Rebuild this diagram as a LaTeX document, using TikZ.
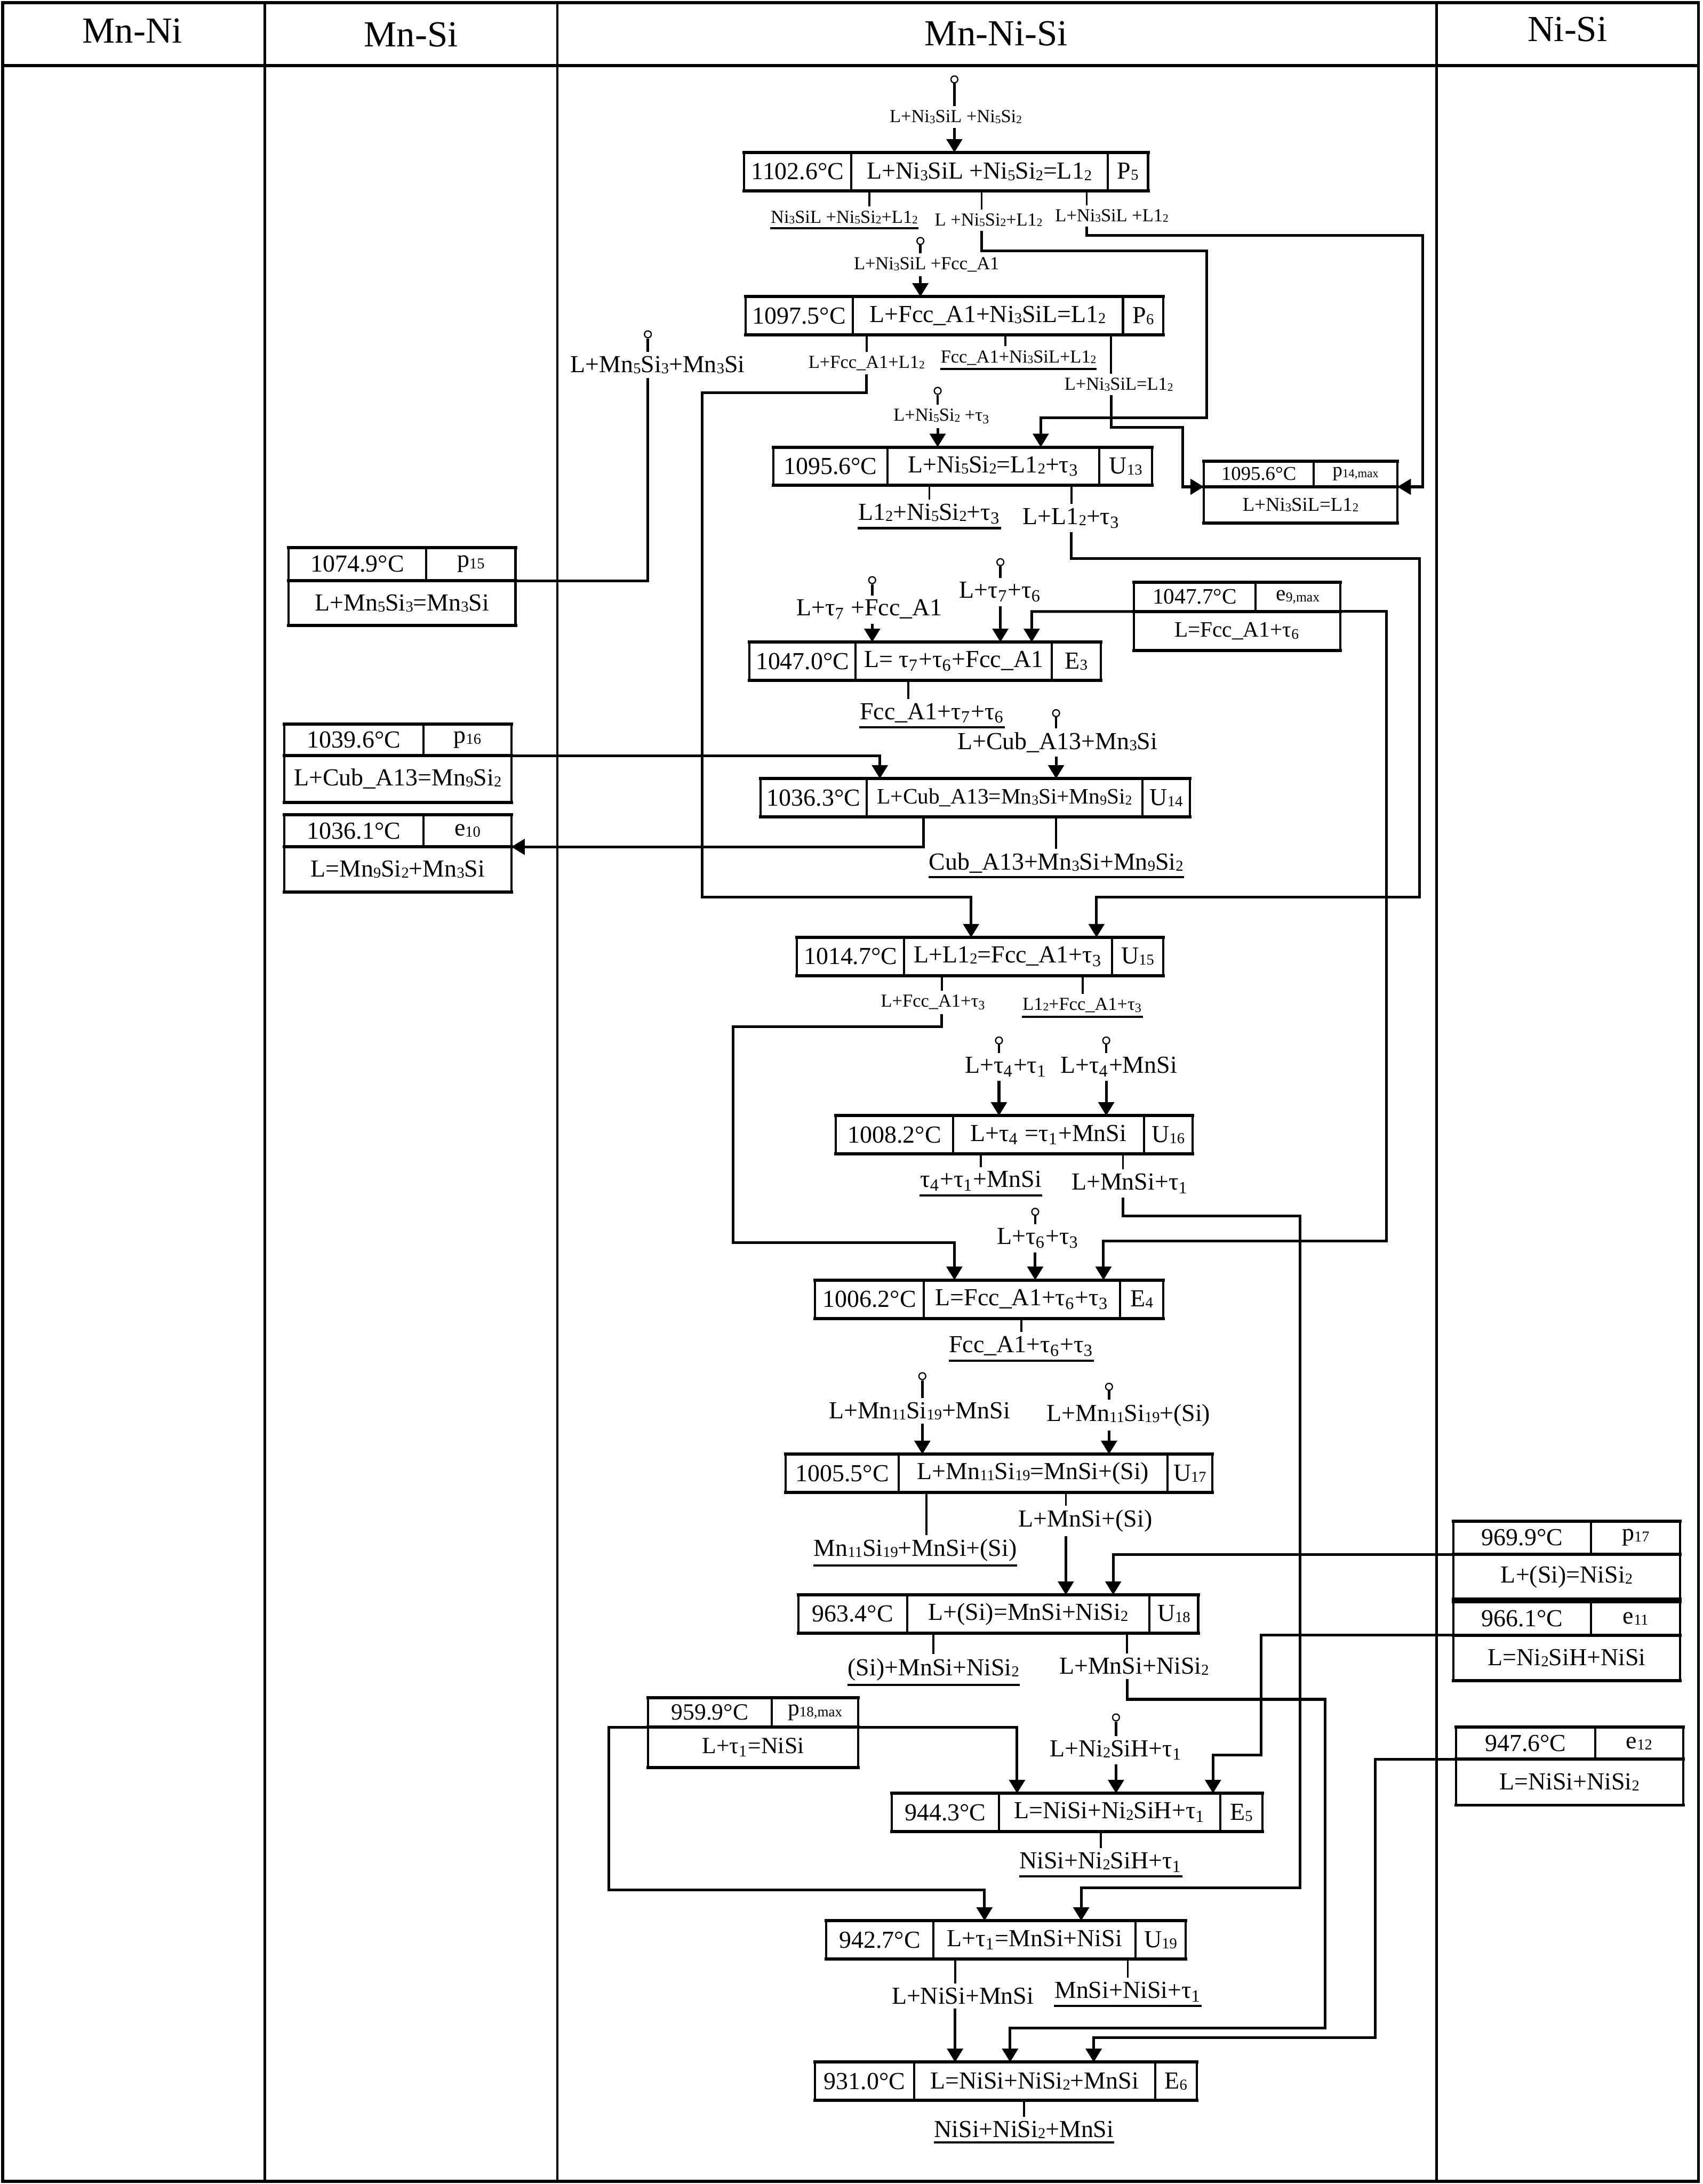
\documentclass[tikz,border=0pt]{standalone}
\usepackage{fontspec}
\setmainfont{Liberation Serif}
\usepackage{graphicx}
\usepackage{tikz}
\usetikzlibrary{arrows.meta}
\newdimen\pxu \pxu=0.2mm
\newcommand{\nsub}[1]{\raisebox{-0.1ex}{\scalebox{0.62}{#1}}}
\newcommand{\tsub}[1]{τ\textsubscript{#1}}
\newcommand{\cellsize}{\fontsize{10}{12}\selectfont}
% three-cell reaction box: name, top-left corner, cell widths, texts
\newcommand{\rxnbox}[8]{%
  \node[cell,minimum width=#3\pxu,anchor=north west] (#1t) at #2 {#6};
  \node[cell,minimum width=#4\pxu,anchor=north west] (#1r) at (#1t.north east) {#7};
  \node[cell,minimum width=#5\pxu,anchor=north west] (#1c) at (#1r.north east) {#8};
  \draw[rim] (#1t.north west) -- (#1c.north east) (#1t.south west) -- (#1c.south east);}
% binary invariant box: two cells over one
\newcommand{\binbox}[9]{%
  \node[cell,minimum width=#3\pxu,minimum height=#5\pxu,anchor=north west] (#1t) at #2 {#7};
  \node[cell,minimum width=#4\pxu,minimum height=#5\pxu,anchor=north west] (#1c) at (#1t.north east) {#8};
  \node[cell,minimum width=#3\pxu+#4\pxu,minimum height=#6\pxu,anchor=north west] (#1r) at (#1t.south west) {#9};
  \draw[rim] (#1t.north west) -- (#1c.north east) (#1t.south west) -- (#1c.south east)
             (#1r.south west) -- (#1r.south east);}

\begin{document}
\begin{tikzpicture}[x=0.2mm,y=-0.2mm,
  cell/.style={draw,line width=0.9pt,inner sep=0pt,outer sep=0pt,
               minimum height=27.5\pxu,font=\cellsize},
  rim/.style={line width=1.3pt,line cap=rect},
  lab/.style={inner xsep=0pt,inner ysep=1.5pt,font=\fontsize{10}{12}\selectfont},
  sml/.style={lab,font=\fontsize{7.5}{9}\selectfont},
  ul/.style={append after command={\pgfextra{\let\ulnode\tikzlastnode}
             (\ulnode.south west) edge[line width=0.9pt] (\ulnode.south east)}},
  dot/.style={circle,draw,line width=0.5pt,fill=white,inner sep=0pt,minimum size=2.8pt},
  stem/.style={line width=1pt},
  stub/.style={line width=0.8pt},
  conn/.style={line width=1.1pt},
  arr/.style={conn,-{Triangle[length=5.5pt,width=6.4pt]}},
  hdr/.style={font=\fontsize{15}{18}\selectfont},
  frame/.style={line width=1.2pt},
  col/.style={line width=1pt}]
\useasboundingbox (0,0) rectangle (1222,1568);

% ------------------------------- table ------------------------------------
\draw[frame] (2,2) rectangle (1219,1566);
\draw[frame] (2,47) -- (1219,47);
\foreach \cx in {190,400,1031} \draw[col] (\cx,2) -- (\cx,1566);
\node[hdr] (hmn)  at (95,22)   {Mn-Ni};
\node[hdr] (hms)  at (295,25)  {Mn-Si};
\node[hdr] (hmns) at (715,24)  {Mn-Ni-Si};
\node[hdr] (hns)  at (1125,21) {Ni-Si};

% --------------------------- ternary reactions ----------------------------
\rxnbox{p5}{(534,109.5)}{77}{184}{29}{1102.6°C}{L+Ni\nsub{3}SiL +Ni\nsub{5}Si\nsub{2}=L1\nsub{2}}{P\nsub{5}}
\rxnbox{p6}{(535,213)}{77}{194}{29}{1097.5°C}{L+Fcc\_A1+Ni\nsub{3}SiL=L1\nsub{2}}{P\nsub{6}}
\rxnbox{u13}{(555,321)}{82}{152}{38}{1095.6°C}{L+Ni\nsub{5}Si\nsub{2}=L1\nsub{2}+\tsub{3}}{U\nsub{13}}
\rxnbox{e3}{(538,461)}{76}{141}{35}{1047.0°C}{L= \tsub{7}+\tsub{6}+Fcc\_A1}{E\nsub{3}}
\rxnbox{u14}{(546,559)}{76}{198}{34}{1036.3°C}{\fontsize{9}{11}\selectfont L+Cub\_A13=Mn\nsub{3}Si+Mn\nsub{9}Si\nsub{2}}{U\nsub{14}}
\rxnbox{u15}{(572,673)}{77}{149}{37}{1014.7°C}{L+L1\nsub{2}=Fcc\_A1+\tsub{3}}{U\nsub{15}}
\rxnbox{u16}{(600,801)}{84}{137}{35}{1008.2°C}{L+\tsub{4} =\tsub{1}+MnSi}{U\nsub{16}}
\rxnbox{e4}{(585,919)}{78}{141}{31}{1006.2°C}{L=Fcc\_A1+\tsub{6}+\tsub{3}}{E\nsub{4}}
\rxnbox{u17}{(564,1044)}{81}{193}{32}{1005.5°C}{L+Mn\nsub{11}Si\nsub{19}=MnSi+(Si)}{U\nsub{17}}
\rxnbox{u18}{(573,1145)}{78}{174}{35}{963.4°C}{L+(Si)=MnSi+NiSi\nsub{2}}{U\nsub{18}}
\rxnbox{e5}{(640,1287.5)}{77}{159}{30}{944.3°C}{L=NiSi+Ni\nsub{2}SiH+\tsub{1}}{E\nsub{5}}
\rxnbox{u19}{(593,1379)}{77}{145}{36}{942.7°C}{L+\tsub{1}=MnSi+NiSi}{U\nsub{19}}
\rxnbox{e6}{(585,1480.5)}{71}{173}{30}{931.0°C}{L=NiSi+NiSi\nsub{2}+MnSi}{E\nsub{6}}

% ---------------------------- binary reactions ----------------------------
\begin{scope}\renewcommand{\cellsize}{\fontsize{8}{9.6}\selectfont}
\binbox{p14}{(864,331)}{79}{60}{18.5}{26}{1095.6°C}{p\nsub{14,max}}{L+Ni\nsub{3}SiL=L1\nsub{2}}
\end{scope}
\begin{scope}\renewcommand{\cellsize}{\fontsize{9}{11}\selectfont}
\binbox{e9}{(814,418)}{87}{61}{21}{28}{1047.7°C}{e\nsub{9,max}}{L=Fcc\_A1+\tsub{6}}
\end{scope}
\begin{scope}\renewcommand{\cellsize}{\fontsize{9.5}{11}\selectfont}
\binbox{p18}{(465,1219)}{89}{62}{21}{29}{959.9°C}{p\nsub{18,max}}{L+\tsub{1}=NiSi}
\end{scope}
\binbox{p15}{(207,393)}{99}{64}{24}{32}{1074.9°C}{p\nsub{15}}{L+Mn\nsub{5}Si\nsub{3}=Mn\nsub{3}Si}
\binbox{p16}{(204,520)}{100}{63}{22.5}{33.5}{1039.6°C}{p\nsub{16}}{L+Cub\_A13=Mn\nsub{9}Si\nsub{2}}
\binbox{e10}{(204,585)}{100}{63}{23}{32.5}{1036.1°C}{e\nsub{10}}{L=Mn\nsub{9}Si\nsub{2}+Mn\nsub{3}Si}
\binbox{p17}{(1043,1092)}{99}{64}{24}{32}{969.9°C}{p\nsub{17}}{L+(Si)=NiSi\nsub{2}}
\binbox{e11}{(1043,1150)}{99}{64}{24}{32.5}{966.1°C}{e\nsub{11}}{L=Ni\nsub{2}SiH+NiSi}
\binbox{e12}{(1045,1240)}{100}{63}{23}{33}{947.6°C}{e\nsub{12}}{L=NiSi+NiSi\nsub{2}}

% ------------------------------ start points ------------------------------
\node[dot] (c1)  at (685,57)     {};
\node[dot] (c2)  at (660.6,173)  {};
\node[dot] (c3)  at (673,280.6)  {};
\node[dot] (c4)  at (465,240)    {};
\node[dot] (c5)  at (626,416.5)  {};
\node[dot] (c6)  at (718,403.6)  {};
\node[dot] (c7)  at (758,512)    {};
\node[dot] (c8)  at (717,747)    {};
\node[dot] (c9)  at (794,747)    {};
\node[dot] (c10) at (743,870)    {};
\node[dot] (c11) at (662,988)    {};
\node[dot] (c12) at (796,995.6)  {};
\node[dot] (c13) at (801,1233)   {};
\node[sml] (l1)  at (686,84)     {L+Ni\nsub{3}SiL +Ni\nsub{5}Si\nsub{2}};
\node[sml] (l2)  at (665,190)    {L+Ni\nsub{3}SiL +Fcc\_A1};
\node[sml] (l3)  at (676,299)    {L+Ni\nsub{5}Si\nsub{2} +\tsub{3}};
\node[lab] (l4)  at (472,262)    {L+Mn\nsub{5}Si\nsub{3}+Mn\nsub{3}Si};
\node[lab] (l5)  at (624,437.6)  {L+\tsub{7} +Fcc\_A1};
\node[lab] (l6)  at (718,425)    {L+\tsub{7}+\tsub{6}};
\node[lab] (l7)  at (759,533)    {L+Cub\_A13+Mn\nsub{3}Si};
\node[lab] (l8)  at (722,766)    {L+\tsub{4}+\tsub{1}};
\node[lab] (l9)  at (803,766)    {L+\tsub{4}+MnSi};
\node[lab] (l10) at (745,889)    {L+\tsub{6}+\tsub{3}};
\node[lab] (l11) at (660,1013)   {L+Mn\nsub{11}Si\nsub{19}+MnSi};
\node[lab] (l12) at (810,1016)   {L+Mn\nsub{11}Si\nsub{19}+(Si)};
\node[lab] (l13) at (801,1256.5) {L+Ni\nsub{2}SiH+\tsub{1}};
\foreach \s in {1,...,13} \draw[stem] (c\s.south) -- (c\s |- l\s.north);
\draw[arr] (c1 |- l1.south) -- (c1 |- p5r.north);
\draw[arr] (c2 |- l2.south) -- (c2 |- p6r.north);
\draw[arr] (c3 |- l3.south) -- (c3 |- u13r.north);
\draw[conn] (c4 |- l4.south) |- (p15c.south east);
\draw[arr] (c5 |- l5.south) -- (c5 |- e3r.north);
\draw[arr] (c6 |- l6.south) -- (c6 |- e3r.north);
\draw[arr] (c7 |- l7.south) -- (c7 |- u14r.north);
\draw[arr] (c8 |- l8.south) -- (c8 |- u16r.north);
\draw[arr] (c9 |- l9.south) -- (c9 |- u16r.north);
\draw[arr] (c10 |- l10.south) -- (c10 |- e4r.north);
\draw[arr] (c11 |- l11.south) -- (c11 |- u17r.north);
\draw[arr] (c12 |- l12.south) -- (c12 |- u17r.north);
\draw[arr] (c13 |- l13.south) -- (c13 |- e5r.north);

% ------------------------------- products ---------------------------------
\node[sml,ul] (o1)  at (606,156)    {Ni\nsub{3}SiL +Ni\nsub{5}Si\nsub{2}+L1\nsub{2}};
\node[sml]    (o2)  at (709.6,158)  {L +Ni\nsub{5}Si\nsub{2}+L1\nsub{2}};
\node[sml]    (o3)  at (798,155)    {L+Ni\nsub{3}SiL +L1\nsub{2}};
\node[sml]    (o4)  at (622,260.7)  {L+Fcc\_A1+L1\nsub{2}};
\node[sml,ul] (o5)  at (731,256.8)  {Fcc\_A1+Ni\nsub{3}SiL+L1\nsub{2}};
\node[sml]    (o6)  at (803,276)    {L+Ni\nsub{3}SiL=L1\nsub{2}};
\node[lab,ul] (o7)  at (667,369)    {L1\nsub{2}+Ni\nsub{5}Si\nsub{2}+\tsub{3}};
\node[lab]    (o8)  at (769,372)    {L+L1\nsub{2}+\tsub{3}};
\node[lab,ul] (o9)  at (669,512)    {Fcc\_A1+\tsub{7}+\tsub{6}};
\node[lab,ul] (o10) at (758,619.5)  {Cub\_A13+Mn\nsub{3}Si+Mn\nsub{9}Si\nsub{2}};
\node[sml]    (o11) at (670,719.6)  {L+Fcc\_A1+\tsub{3}};
\node[sml,ul] (o12) at (777,721.7)  {L1\nsub{2}+Fcc\_A1+\tsub{3}};
\node[lab,ul] (o13) at (704,848)    {\tsub{4}+\tsub{1}+MnSi};
\node[lab]    (o14) at (811,849.6)  {L+MnSi+\tsub{1}};
\node[lab,ul] (o15) at (733,966.6)  {Fcc\_A1+\tsub{6}+\tsub{3}};
\node[lab,ul] (o16) at (657,1113)   {Mn\nsub{11}Si\nsub{19}+MnSi+(Si)};
\node[lab]    (o17) at (779,1092)   {L+MnSi+(Si)};
\node[lab,ul] (o18) at (670,1198.6) {(Si)+MnSi+NiSi\nsub{2}};
\node[lab]    (o19) at (814,1196.4) {L+MnSi+NiSi\nsub{2}};
\node[lab,ul] (o20) at (790,1337)   {NiSi+Ni\nsub{2}SiH+\tsub{1}};
\node[lab]    (o21) at (691,1433)   {L+NiSi+MnSi};
\node[lab,ul] (o22) at (809.5,1430) {MnSi+NiSi+\tsub{1}};
\node[lab,ul] (o23) at (735,1529)   {NiSi+NiSi\nsub{2}+MnSi};

% stub positions where the line does not meet the label centre
\coordinate (q1)  at (624,156);
\coordinate (q2)  at (704.5,158);
\coordinate (q3)  at (780,155);
\coordinate (q5)  at (721.6,257);
\coordinate (q6)  at (797.5,276);
\coordinate (q9)  at (652,512);
\coordinate (q11) at (676,720);
\coordinate (q14) at (806,850);
\coordinate (q16) at (665,1113);
\coordinate (q17) at (765,1092);
\coordinate (q19) at (809,1196);
\coordinate (q21) at (685.5,1433);
\draw[stub] (q1 |- p5r.south) -- (q1 |- o1.north);
\draw[stub] (q2 |- p5r.south) -- (q2 |- o2.north);
\draw[stub] (q3 |- p5r.south) -- (q3 |- o3.north);
\draw[stub] (o4.north |- p6r.south) -- (o4.north);
\draw[stub] (q5 |- p6r.south) -- (q5 |- o5.north);
\draw[stub] (q6 |- p6r.south) -- (q6 |- o6.north);
\draw[stub] (o7.north |- u13r.south) -- (o7.north);
\draw[stub] (o8.north |- u13r.south) -- (o8.north);
\draw[stub] (q9 |- e3r.south) -- (q9 |- o9.north);
\draw[stub] (o10.north |- u14r.south) -- (o10.north);
\draw[stub] (q11 |- u15r.south) -- (q11 |- o11.north);
\draw[stub] (o12.north |- u15r.south) -- (o12.north);
\draw[stub] (o13.north |- u16r.south) -- (o13.north);
\draw[stub] (q14 |- u16r.south) -- (q14 |- o14.north);
\draw[stub] (o15.north |- e4r.south) -- (o15.north);
\draw[stub] (q16 |- u17r.south) -- (q16 |- o16.north);
\draw[stub] (q17 |- u17r.south) -- (q17 |- o17.north);
\draw[stub] (o18.north |- u18r.south) -- (o18.north);
\draw[stub] (q19 |- u18r.south) -- (q19 |- o19.north);
\draw[stub] (o20.north |- e5r.south) -- (o20.north);
\draw[stub] (q21 |- u19r.south) -- (q21 |- o21.north);
\draw[stub] (o22.north |- u19r.south) -- (o22.north);
\draw[stub] (o23.north |- e6r.south) -- (o23.north);

% ------------------------------- routing ----------------------------------
\coordinate (b1)  at (866,180);
\coordinate (b2)  at (747,300);
\coordinate (b3)  at (1021,169);
\coordinate (b4)  at (504,282);
\coordinate (b5)  at (697,644);
\coordinate (b6)  at (849,307);
\coordinate (b7)  at (1019,401);
\coordinate (b8)  at (787,644);
\coordinate (b9)  at (740.5,439);
\coordinate (b10) at (995,891);
\coordinate (b11) at (792,891);
\coordinate (b12) at (631.5,542.5);
\coordinate (b13) at (663,608);
\coordinate (b14) at (526,737);
\coordinate (b15) at (685,892);
\coordinate (b16) at (933,873);
\coordinate (b17) at (776,1355.5);
\coordinate (b18) at (799,1116);
\coordinate (b19) at (951,1220);
\coordinate (b20) at (725,1456);
\coordinate (b21) at (905,1260);
\coordinate (b22) at (870.6,1260);
\coordinate (b23) at (730,1240);
\coordinate (b24) at (437,1357);
\coordinate (b25) at (706.6,1357);
\coordinate (b26) at (987,1463);
\coordinate (b27) at (785,1463);
\draw[arr] (q2 |- o2.south) |- (b1) |- (b2) -- (b2 |- u13r.north);
\draw[arr] (q3 |- o3.south) |- (b3) |- (p14c.south east);
\draw[arr] (o4.south) |- (b4) |- (b5) -- (b5 |- u15r.north);
\draw[arr] (q6 |- o6.south) |- (b6) |- (p14t.south west);
\draw[arr] (o8.south) |- (b7) |- (b8) -- (b8 |- u15r.north);
\draw[arr] (e9t.south west) -- (b9) -- (b9 |- e3r.north);
\draw[arr] (e9c.south east) -| (b10) -| (b11 |- e4r.north);
\draw[arr] (p16c.south east) -| (b12 |- u14r.north);
\draw[arr] (b13 |- u14r.south) |- (e10c.south east);
\draw[arr] (q11 |- o11.south) |- (b14) |- (b15) -- (b15 |- e4r.north);
\draw[arr] (q14 |- o14.south) |- (b16) |- (b17) -- (b17 |- u19r.north);
\draw[arr] (q17 |- o17.south) -- (q17 |- u18r.north);
\draw[arr] (p17t.south west) -| (b18 |- u18r.north);
\draw[arr] (q19 |- o19.south) |- (b19) |- (b20) -- (b20 |- e6r.north);
\draw[arr] (e11t.south west) -| (b21) -| (b22 |- e5r.north);
\draw[arr] (p18c.south east) -| (b23 |- e5r.north);
\draw[arr] (p18t.south west) -| (b24) -| (b25 |- u19r.north);
\draw[arr] (q21 |- o21.south) -- (q21 |- e6r.north);
\draw[arr] (e12t.south west) -| (b26) -| (b27 |- e6r.north);
\end{tikzpicture}
\end{document}
